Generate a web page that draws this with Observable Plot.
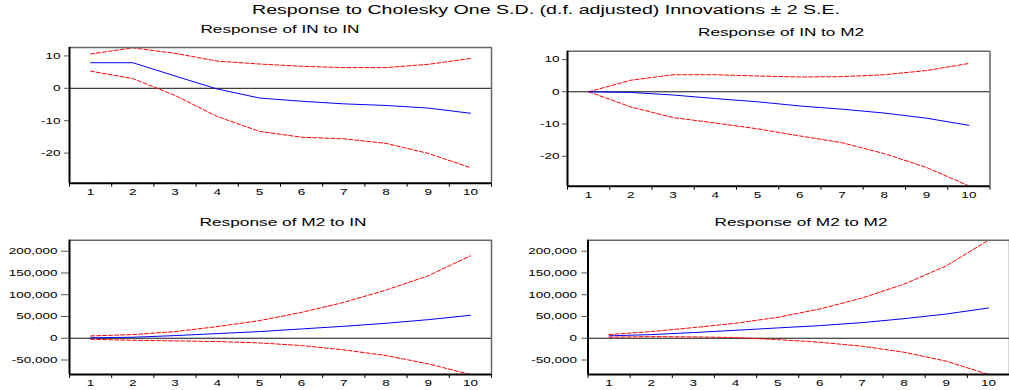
<!DOCTYPE html>
<html><head><meta charset="utf-8">
<script src="https://cdn.jsdelivr.net/npm/d3@7"></script>
<script src="https://cdn.jsdelivr.net/npm/@observablehq/plot@0.6"></script>
<style>
body{margin:0;background:#fff;}
#wrap{position:relative;width:1009px;height:390px;overflow:hidden;background:#fff;font-family:"Liberation Sans",Arial,sans-serif;}
.t{position:absolute;white-space:nowrap;color:#000;transform-origin:center;line-height:1;}
.p{position:absolute;}
.p svg{overflow:visible;}
</style></head><body><div id="wrap"></div>
<script>
// ---- data ----
const mainTitle = "Response to Cholesky One S.D. (d.f. adjusted) Innovations \u00B1 2 S.E.";
const panelTitles = ["Response of IN to IN", "Response of IN to M2", "Response of M2 to IN", "Response of M2 to M2"];
const periods = [1, 2, 3, 4, 5, 6, 7, 8, 9, 10];

const inInResp  = [7.9, 7.9, 3.8, -0.2, -3.0, -4.0, -4.8, -5.3, -6.1, -7.7];
const inInUpper = [10.6, 12.5, 10.8, 8.4, 7.5, 6.8, 6.4, 6.4, 7.4, 9.2];
const inInLower = [5.3, 3.0, -2.2, -8.7, -13.3, -15.1, -15.6, -17.0, -20.1, -24.5];

const inM2Resp  = [0, -0.2, -1.0, -2.1, -3.1, -4.4, -5.4, -6.6, -8.2, -10.4];
const inM2Upper = [0, 3.6, 5.3, 5.3, 4.9, 4.6, 4.7, 5.3, 6.6, 8.8];
const inM2Lower = [0, -4.7, -8.0, -9.7, -11.5, -13.7, -15.8, -19.2, -23.5, -29.2];

const m2InResp  = [1000, 2300, 6100, 10700, 15300, 21400, 27500, 34400, 42700, 52700];
const m2InUpper = [5300, 8400, 15300, 26700, 40500, 59500, 82400, 110700, 143500, 189300];
const m2InLower = [-2300, -4600, -6100, -7600, -10700, -16800, -26700, -39700, -58800, -83200];

const m2M2Resp  = [5500, 8400, 13000, 18300, 23700, 29000, 35900, 45000, 55700, 69500];
const m2M2Upper = [8400, 15300, 24400, 34400, 48100, 67200, 92400, 124400, 166400, 225200];
const m2M2Lower = [2300, 3800, 3100, 1500, -3100, -9200, -18300, -32100, -52700, -83200];

const inTicks = [-20, -10, 0, 10];
const m2Ticks = [-50000, 0, 50000, 100000, 150000, 200000];
const inDomain = [-29.3, 12.6];
const m2Domain = [-83300, 225300];
const xDomain = [0.5, 10.5];
const xBoundaries = [0.5, 1.5, 2.5, 3.5, 4.5, 5.5, 6.5, 7.5, 8.5, 9.5, 10.5];

// ---- rendering ----
const wrap = document.getElementById("wrap");
const TEXT_STRETCH = 1.5;

function rows(resp, upper, lower) {
  return periods.map((p, i) => ({period: p, resp: resp[i], upper: upper[i], lower: lower[i]}));
}

function panel(cfg) {
  const data = rows(cfg.resp, cfg.upper, cfg.lower);
  const fmt = cfg.big ? (d => d.toLocaleString("en-US")) : (d => String(d));
  const chart = Plot.plot({
    width: cfg.width, height: cfg.height,
    marginLeft: cfg.ml, marginRight: cfg.mr, marginTop: cfg.mt, marginBottom: cfg.mb,
    x: {domain: xDomain},
    y: {domain: cfg.domain},
    style: {fontFamily: "Liberation Sans, Arial, sans-serif", fontSize: "9px", background: "transparent", color: "#000"},
    marks: [
      Plot.ruleY([0], {stroke: "#111", strokeWidth: 1}),
      Plot.line(data, {x: "period", y: "upper", stroke: "#ff0000", strokeWidth: 1, strokeDasharray: "4,2", clip: true}),
      Plot.line(data, {x: "period", y: "lower", stroke: "#ff0000", strokeWidth: 1, strokeDasharray: "4,2", clip: true}),
      Plot.line(data, {x: "period", y: "resp", stroke: "#0000ff", strokeWidth: 1, clip: true}),
      Plot.ruleY([cfg.domain[1]], {stroke: "#666", strokeWidth: 1.5}),
      Plot.ruleX([xDomain[1]], {stroke: "#666", strokeWidth: 1.5}),
      Plot.ruleX([xDomain[0]], {stroke: "#000", strokeWidth: 2}),
      Plot.ruleY([cfg.domain[0]], {stroke: "#000", strokeWidth: 2}),
      Plot.axisY({ticks: cfg.ticks, tickSize: cfg.ts, tickPadding: cfg.tp, tickFormat: fmt, label: null, stroke: "#555"}),
      Plot.axisX({ticks: xBoundaries, tickSize: 4, tickFormat: () => "", label: null, stroke: "#000"}),
      Plot.axisX({ticks: periods, tickSize: 0, tickPadding: 5, tickFormat: d => String(d), label: null})
    ]
  });
  chart.querySelectorAll("text").forEach(t => {
    const tr = t.getAttribute("transform");
    if (tr) t.setAttribute("transform", tr + ` scale(${TEXT_STRETCH},1)`);
    else {
      const x = +t.getAttribute("x") || 0, y = +t.getAttribute("y") || 0;
      t.removeAttribute("x"); t.removeAttribute("y");
      t.setAttribute("transform", `translate(${x},${y}) scale(${TEXT_STRETCH},1)`);
    }
  });
  const div = document.createElement("div");
  div.className = "p";
  div.style.left = cfg.left + "px";
  div.style.top = cfg.top + "px";
  div.appendChild(chart);
  wrap.appendChild(div);
}

function title(text, cx, baseline, fs, targetWidth) {
  const d = document.createElement("div");
  d.className = "t";
  d.textContent = text;
  d.style.fontSize = fs + "px";
  d.style.left = cx + "px";
  d.style.top = (baseline - 0.846 * fs) + "px";
  wrap.appendChild(d);
  const w = d.getBoundingClientRect().width;
  d.style.transform = `translateX(-50%) scaleX(${targetWidth / w})`;
}

panel({resp: inInResp, upper: inInUpper, lower: inInLower, domain: inDomain, ticks: inTicks, big: false,
  left: 0, top: 40, width: 500, height: 160, ml: 69, mr: 9, mt: 7, mb: 17.3, ts: 5, tp: 4});
panel({resp: inM2Resp, upper: inM2Upper, lower: inM2Lower, domain: inDomain, ticks: inTicks, big: false,
  left: 500, top: 40, width: 509, height: 160, ml: 67, mr: 19.5, mt: 10.7, mb: 14.3, ts: 5, tp: 3});
panel({resp: m2InResp, upper: m2InUpper, lower: m2InLower, domain: m2Domain, ticks: m2Ticks, big: true,
  left: 0, top: 230, width: 500, height: 160, ml: 69, mr: 9, mt: 9.7, mb: 16, ts: 8, tp: 4});
panel({resp: m2M2Resp, upper: m2M2Upper, lower: m2M2Lower, domain: m2Domain, ticks: m2Ticks, big: true,
  left: 500, top: 230, width: 509, height: 160, ml: 87.5, mr: 0, mt: 9.7, mb: 16, ts: 6, tp: 5});

title(mainTitle, 546, 14, 12, 588);
title(panelTitles[0], 279.5, 33, 10.5, 159);
title(panelTitles[1], 780.5, 36.8, 10, 166);
title(panelTitles[2], 282.7, 226.7, 10, 167);
title(panelTitles[3], 800.7, 226.7, 10, 173);
</script>
</body></html>
